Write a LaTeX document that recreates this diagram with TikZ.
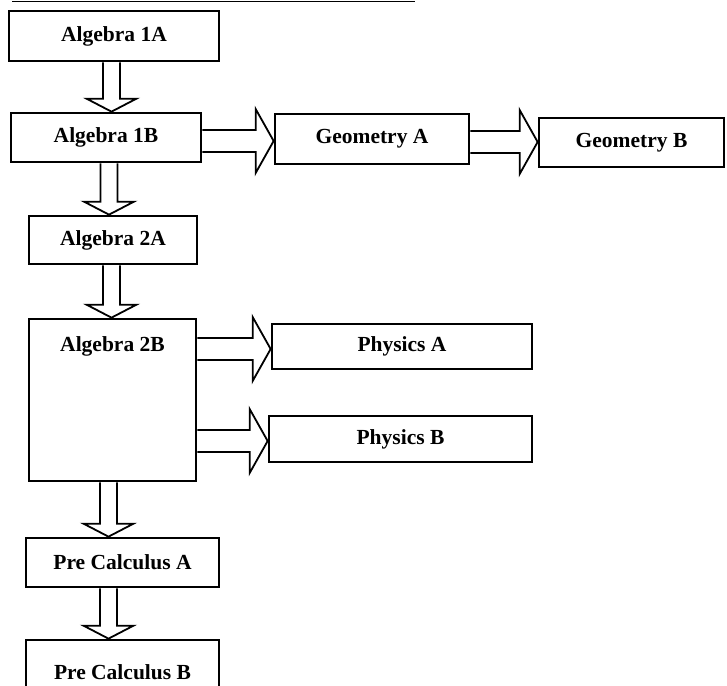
\documentclass[tikz,border=0pt]{standalone}
\usepackage{fontspec}
\setmainfont{Liberation Serif}
\usetikzlibrary{calc}
\tikzset{
  box/.style={draw=black, line width=2.7pt, fill=white, inner sep=0pt, font=\fontsize{21.5}{25}\selectfont\bfseries},
  blk/.style={draw=black, line width=1.8pt, fill=white, line join=miter},
}
% vertical block arrow: from node #1 (south) to node #2 (north) at x = #3
\newcommand\vblock[3]{%
  \draw[blk] let \p1=(#1.south), \p2=(#2.north), \p3=(#3,0) in
    (\x3-8.5pt,\y1) -- (\x3-8.5pt,\y2+13pt) -- (\x3-25pt,\y2+13pt) -- (\x3,\y2)
    -- (\x3+25pt,\y2+13pt) -- (\x3+8.5pt,\y2+13pt) -- (\x3+8.5pt,\y1);}
% horizontal block arrow: from node #1 (east) to node #2 (west) at y = #3
\newcommand\hblock[3]{%
  \draw[blk] let \p1=(#1.east), \p2=(#2.west), \p3=(0,#3) in
    (\x1,\y3+11pt) -- (\x2-18pt,\y3+11pt) -- (\x2-18pt,\y3+32pt) -- (\x2,\y3)
    -- (\x2-18pt,\y3-32pt) -- (\x2-18pt,\y3-11pt) -- (\x1,\y3-11pt);}
\begin{document}
\begin{tikzpicture}[x=1pt,y=-1pt]
\useasboundingbox (0,0) rectangle (727,685);
\clip (0,0) rectangle (727,685);
\fill[white] (0,0) rectangle (727,685);
\draw[line width=1.2pt] (12,1.2) -- (415,1.2);

\node[box, minimum width=210pt, minimum height=50pt] (a1a) at (114,36) {Algebra 1A};
\node[box, minimum width=190pt, minimum height=49pt] (a1b) at (106,137.5) {Algebra 1B};
\node[box, minimum width=194pt, minimum height=50pt] (geoa) at (372,139) {Geometry A};
\node[box, minimum width=185pt, minimum height=49pt] (geob) at (631.5,142.5) {Geometry B};
\node[box, minimum width=168pt, minimum height=48pt] (a2a) at (113,240) {Algebra 2A};
\node[box, minimum width=167pt, inner ysep=19pt, text height=13pt, text depth=111pt] (a2b) at (112.5,400) {Algebra 2B};
\node[box, minimum width=260pt, minimum height=45pt] (physa) at (402,346.5) {Physics A};
\node[box, minimum width=263pt, minimum height=46pt] (physb) at (400.5,439) {Physics B};
\node[box, minimum width=193pt, minimum height=49pt] (pca) at (122.5,562.5) {Pre Calculus A};
\node[box, minimum width=193pt, minimum height=64pt] (pcb) at (122.5,672) {Pre Calculus B};

\vblock{a1a}{a1b}{111.5}
\vblock{a1b}{a2a}{109}
\vblock{a2a}{a2b}{111.5}
\vblock{a2b}{pca}{108.5}
\vblock{pca}{pcb}{108.5}
\hblock{a1b}{geoa}{141}
\hblock{geoa}{geob}{142}
\hblock{a2b}{physa}{349}
\hblock{a2b}{physb}{441}
\end{tikzpicture}
\end{document}
